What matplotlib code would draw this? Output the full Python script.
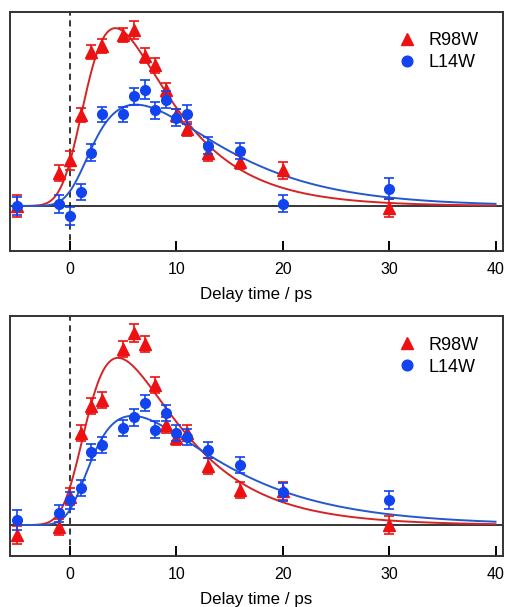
import numpy as np
import matplotlib
matplotlib.use('Agg')
import matplotlib.pyplot as plt

plt.rcParams['font.family'] = ['Liberation Sans', 'DejaVu Sans']

# delay times (ps)
delay = [-5, -1, 0, 1, 2, 3, 5, 6, 7, 8, 9, 10, 11, 13, 16, 20, 30]

# upper panel
r98w_top = [0.0, 0.185, 0.257, 0.51, 0.865, 0.90, 0.96, 0.99, 0.846, 0.79, 0.654, 0.51, 0.434, 0.30, 0.247, 0.20, -0.01]
r98w_top_err = [0.06, 0.045, 0.053, 0.04, 0.04, 0.04, 0.04, 0.05, 0.04, 0.04, 0.04, 0.035, 0.04, 0.047, 0.04, 0.047, 0.05]
l14w_top = [0.0, 0.01, -0.058, 0.079, 0.30, 0.515, 0.515, 0.616, 0.654, 0.537, 0.597, 0.496, 0.515, 0.34, 0.309, 0.013, 0.097]
l14w_top_err = [0.05, 0.05, 0.05, 0.047, 0.047, 0.04, 0.04, 0.05, 0.055, 0.047, 0.047, 0.047, 0.055, 0.047, 0.047, 0.047, 0.06]

# lower panel
r98w_bot = [-0.056, -0.01, 0.16, 0.52, 0.67, 0.705, 0.99, 1.08, 1.02, 0.79, 0.56, 0.49, 0.52, 0.333, 0.197, 0.19, 0.0]
r98w_bot_err = [0.05, 0.045, 0.05, 0.045, 0.045, 0.045, 0.045, 0.05, 0.045, 0.045, 0.045, 0.04, 0.045, 0.045, 0.045, 0.05, 0.05]
l14w_bot = [0.028, 0.066, 0.14, 0.21, 0.41, 0.45, 0.547, 0.605, 0.687, 0.537, 0.63, 0.52, 0.496, 0.42, 0.337, 0.187, 0.14]
l14w_bot_err = [0.055, 0.047, 0.047, 0.045, 0.045, 0.045, 0.045, 0.047, 0.045, 0.047, 0.047, 0.045, 0.045, 0.045, 0.045, 0.05, 0.05]

# fit parameters: peak, t0, irf sigma, rise tau, decay tau
fit_r98w_top = (1.0, 0.2, 1.4, 2.3, 5.6)
fit_l14w_top = (0.57, 0.3, 1.3, 4.5, 7.0)
fit_r98w_bot = (0.94, 0.2, 1.35, 2.5, 6.2)
fit_l14w_bot = (0.614, 0.3, 1.2, 3.5, 8.5)

RED, RED_LINE = '#ee1111', '#d42525'
BLUE, BLUE_LINE = '#1144ee', '#2458cc'


def kinetic(t, peak, t0, sigma, tau_r, tau_d):
    dt = 0.01
    s = np.arange(-30, 80, dt)
    u = np.clip(s - t0, 0, None)
    h = np.where(s >= t0, np.exp(-u / tau_d) - np.exp(-u / tau_r), 0.0)
    k = np.arange(-600, 601) * dt
    g = np.exp(-k ** 2 / (2 * sigma ** 2))
    g /= g.sum()
    y = np.convolve(h, g, mode='same')
    y = y / y.max() * peak
    return np.interp(t, s, y)


def panel(ax, red, red_err, blue, blue_err, fit_r, fit_b, ylim):
    tt = np.linspace(-5, 40, 600)
    ax.axhline(0, color='black', lw=1.1, zorder=1)
    ax.axvline(0, color='black', lw=1.1, ls=(0, (4, 3)), zorder=1)
    ax.plot(tt, kinetic(tt, *fit_r), color=RED_LINE, lw=1.4, zorder=2)
    ax.plot(tt, kinetic(tt, *fit_b), color=BLUE_LINE, lw=1.4, zorder=2)
    ax.errorbar(delay, red, yerr=red_err, fmt='^', color=RED, ms=8.5,
                ecolor=RED, elinewidth=1.2, capsize=3.5, capthick=1.2, zorder=3, label='R98W')
    ax.errorbar(delay, blue, yerr=blue_err, fmt='o', color=BLUE, ms=7,
                ecolor=BLUE, elinewidth=1.2, capsize=3.5, capthick=1.2, zorder=4, label='L14W')
    ax.set_xlim(-5.65, 40.7)
    ax.set_ylim(*ylim)
    ax.set_xticks([0, 10, 20, 30, 40])
    ax.set_yticks([])
    ax.tick_params(axis='x', direction='in', length=7, width=1.4, labelsize=11.5, pad=8)
    for sp in ax.spines.values():
        sp.set_linewidth(1.4)
        sp.set_color('#333333')
    ax.set_xlabel('Delay time / ps', fontsize=12.2, labelpad=7)
    h, l = ax.get_legend_handles_labels()
    h = [x[0] for x in h]
    ax.legend(h, l, loc='upper right', bbox_to_anchor=(0.95, 0.915), frameon=False,
              fontsize=13, handlelength=1.0, handletextpad=0.7, labelspacing=0.28,
              borderpad=0, borderaxespad=0, markerscale=1.1)


fig = plt.figure(figsize=(5.06, 6.07), dpi=100)
ax1 = fig.add_axes([0.0198, 0.5865, 0.9742, 0.3935])
ax2 = fig.add_axes([0.0198, 0.084, 0.9742, 0.395])

panel(ax1, r98w_top, r98w_top_err, l14w_top, l14w_top_err, fit_r98w_top, fit_l14w_top, (-0.253, 1.09))
panel(ax2, r98w_bot, r98w_bot_err, l14w_bot, l14w_bot_err, fit_r98w_bot, fit_l14w_bot, (-0.174, 1.174))

fig.savefig('out.png', dpi=100)
